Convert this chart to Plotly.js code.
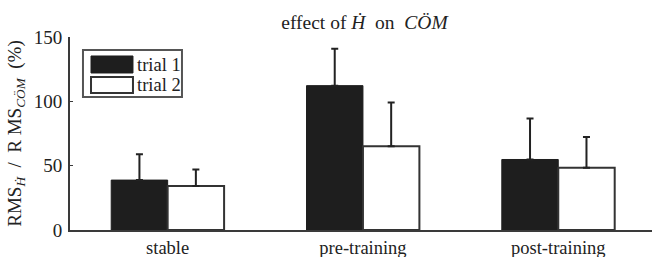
<!DOCTYPE html>
<html>
<head>
<meta charset="utf-8">
<script src="https://cdn.plot.ly/plotly-3.0.1.min.js"></script>
<style>html,body{margin:0;padding:0;background:#fff;}#chart{width:652px;height:257px;}</style>
</head>
<body>
<div id="chart"></div>
<script>
// Data
const categories = [1, 2, 3];
const tickLabels = ["stable", "pre-training", "post-training"];
const trial1 = [38.8, 112.2, 54.8];
const trial1Err = [20.1, 28.6, 31.8];
const trial2 = [34.1, 65.1, 48.3];
const trial2Err = [12.9, 33.9, 24.0];
const seriesNames = ["trial 1", "trial 2"];
const yTicks = [0, 50, 100, 150];

const FONT = 'Liberation Serif, serif';
const INK = '#222222';
const AX = '#3a3a3a';

const errStyle = (arr) => ({
  type: 'data', symmetric: false, array: arr,
  arrayminus: arr.map(() => 0),
  color: INK, thickness: 2, width: 3.5
});

const traces = [
  {
    type: 'bar', x: categories, y: trial1, name: seriesNames[0],
    marker: {color: '#1e1e1e', line: {color: '#1e1e1e', width: 1}},
    error_y: errStyle(trial1Err), showlegend: false, hoverinfo: 'y'
  },
  {
    type: 'bar', x: categories, y: trial2, name: seriesNames[1],
    marker: {color: '#ffffff', line: {color: '#333333', width: 2}},
    error_y: errStyle(trial2Err), showlegend: false, hoverinfo: 'y'
  }
];

// legend geometry (paper coordinates)
const lx0 = 0.0223, lx1 = 0.1924, ly0 = 0.689, ly1 = 0.9326;
const sx0 = 0.0361, sx1 = 0.1082;
const shapes = [
  {type: 'rect', xref: 'paper', yref: 'paper', x0: lx0, x1: lx1, y0: ly0, y1: ly1,
   line: {color: '#555555', width: 2}, fillcolor: '#ffffff', layer: 'above'},
  {type: 'rect', xref: 'paper', yref: 'paper', x0: sx0, x1: sx1, y0: 0.8135, y1: 0.9016,
   line: {color: '#1e1e1e', width: 1}, fillcolor: '#1e1e1e', layer: 'above'},
  {type: 'rect', xref: 'paper', yref: 'paper', x0: sx0, x1: sx1, y0: 0.7098, y1: 0.7927,
   line: {color: '#333333', width: 2}, fillcolor: '#ffffff', layer: 'above'}
];
const annotations = [
  {xref: 'paper', yref: 'paper', x: 0.1117, y: 0.8575, xanchor: 'left', yanchor: 'middle',
   text: seriesNames[0], showarrow: false, font: {family: FONT, size: 18.5, color: INK}},
  {xref: 'paper', yref: 'paper', x: 0.1117, y: 0.7513, xanchor: 'left', yanchor: 'middle',
   text: seriesNames[1], showarrow: false, font: {family: FONT, size: 18.5, color: INK}}
];

const layout = {
  width: 652, height: 257,
  margin: {l: 70, r: 0, t: 37, b: 27, pad: 0},
  paper_bgcolor: '#ffffff', plot_bgcolor: '#ffffff',
  font: {family: FONT, size: 18, color: INK},
  barmode: 'group', bargap: 0.422, bargroupgap: 0,
  title: {
    text: 'effect of <i>Ḣ</i>  on  <i>CÖM</i>',
    x: 0.559, xanchor: 'center', y: 0.914, yanchor: 'middle',
    font: {family: FONT, size: 19.5, color: INK}
  },
  xaxis: {
    range: [0.5, 3.48], tickvals: categories, ticktext: tickLabels,
    showline: true, linecolor: AX, linewidth: 2, ticks: '', showgrid: false,
    zeroline: false, tickfont: {family: FONT, size: 18.5, color: INK}, fixedrange: true
  },
  yaxis: {
    range: [0, 150], tickvals: yTicks, ticks: 'inside', ticklen: 3, tickwidth: 1,
    tickcolor: AX, showline: true, linecolor: AX, linewidth: 2, showgrid: false,
    zeroline: false, tickfont: {family: FONT, size: 19, color: INK}, ticklabelstandoff: 2,
    title: {text: 'RMS<sub><i>Ḣ</i></sub>  /  R MS<sub><i>CÖM</i></sub>  (%)',
            font: {family: FONT, size: 19, color: INK}, standoff: 7},
    fixedrange: true
  },
  shapes: shapes, annotations: annotations
};

Plotly.newPlot('chart', traces, layout, {displayModeBar: false, staticPlot: true});
</script>
</body>
</html>
